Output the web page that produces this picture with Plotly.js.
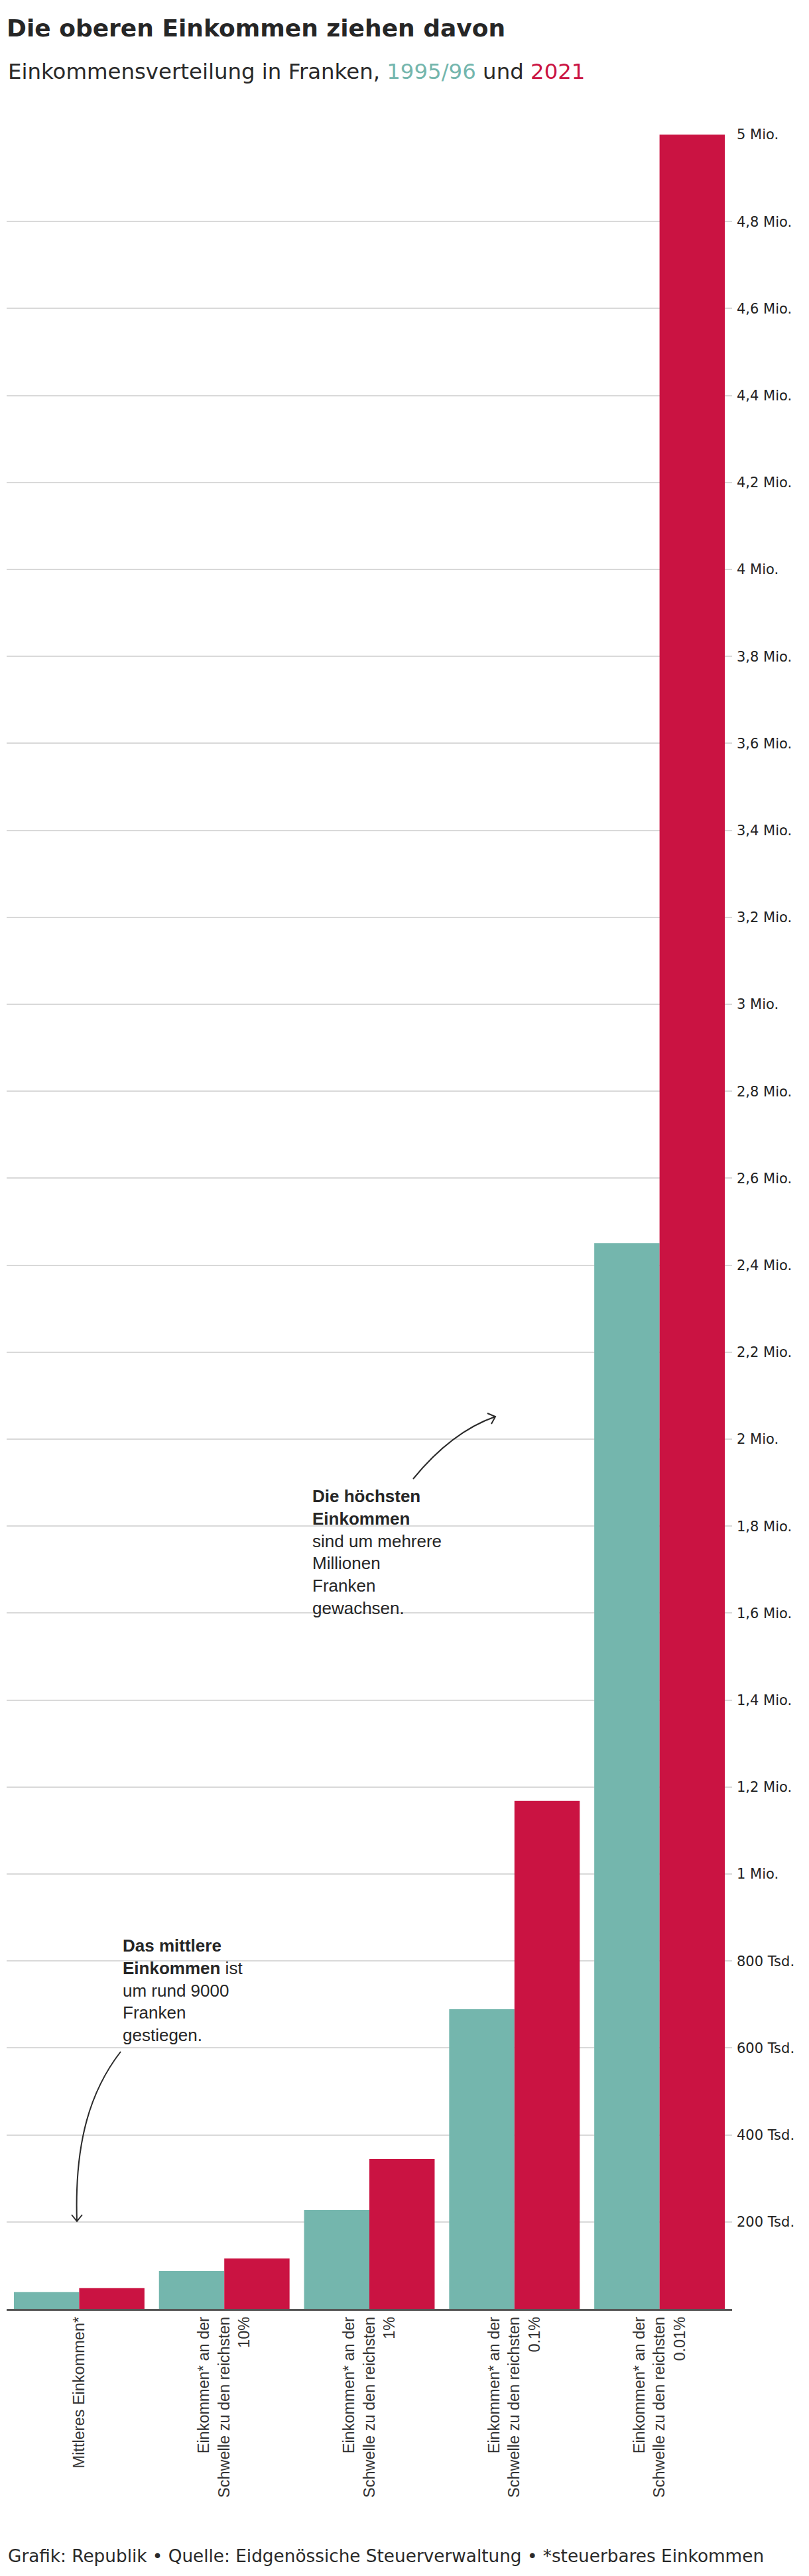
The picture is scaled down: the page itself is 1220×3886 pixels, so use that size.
<!DOCTYPE html>
<html>
<head>
<meta charset="utf-8">
<script src="https://cdn.plot.ly/plotly-3.0.1.min.js"></script>
<style>
  html, body { margin: 0; padding: 0; background: #fff; }
  #chart { width: 1220px; height: 3886px; }
</style>
</head>
<body>
<div id="chart"></div>
<script>
// ---- data ----
const categories = [
  "Mittleres Einkommen*",
  "Einkommen* an der<br>Schwelle zu den reichsten<br>10%",
  "Einkommen* an der<br>Schwelle zu den reichsten<br>1%",
  "Einkommen* an der<br>Schwelle zu den reichsten<br>0.1%",
  "Einkommen* an der<br>Schwelle zu den reichsten<br>0.01%"
];
const values1995 = [38500, 87000, 227000, 689000, 2451000];
const values2021 = [47500, 116000, 344500, 1168000, 5000000];
const tickValues = [200000, 400000, 600000, 800000, 1000000, 1200000, 1400000, 1600000, 1800000, 2000000,
  2200000, 2400000, 2600000, 2800000, 3000000, 3200000, 3400000, 3600000, 3800000, 4000000,
  4200000, 4400000, 4600000, 4800000, 5000000];
const tickLabels = ["200 Tsd.", "400 Tsd.", "600 Tsd.", "800 Tsd.", "1 Mio.", "1,2 Mio.", "1,4 Mio.", "1,6 Mio.",
  "1,8 Mio.", "2 Mio.", "2,2 Mio.", "2,4 Mio.", "2,6 Mio.", "2,8 Mio.", "3 Mio.", "3,2 Mio.", "3,4 Mio.",
  "3,6 Mio.", "3,8 Mio.", "4 Mio.", "4,2 Mio.", "4,4 Mio.", "4,6 Mio.", "4,8 Mio.", "5 Mio."];

// ---- styles ----
const TEAL = "#74b6ad";
const RED = "#ca1342";
const W = 1220, H = 3886;
const M = { l: 10, r: 116, t: 203, b: 403 };
const PW = W - M.l - M.r, PH = H - M.t - M.b;
const px = v => (v - M.l) / PW;          // pixel x -> paper
const py = v => (H - M.b - v) / PH;      // pixel y -> paper

const traces = [
  { type: "bar", name: "1995/96", x: categories, y: values1995, marker: { color: TEAL, line: { width: 0 } }, hoverinfo: "skip" },
  { type: "bar", name: "2021", x: categories, y: values2021, marker: { color: RED, line: { width: 0 } }, hoverinfo: "skip" }
];

const annFont = "Liberation Sans, Arial, sans-serif";
const headFont = "DejaVu Sans, sans-serif";

const layout = {
  width: W, height: H,
  margin: M,
  paper_bgcolor: "#fff", plot_bgcolor: "#fff",
  showlegend: false,
  barmode: "group", bargap: 0.1, bargroupgap: 0,
  title: {
    text: "<b>Die oberen Einkommen ziehen davon</b>",
    xref: "container", yref: "container",
    x: 10 / W, xanchor: "left",
    y: 1 - 42.5 / H, yanchor: "middle",
    font: { family: headFont, size: 36, color: "#262626" }
  },
  xaxis: {
    type: "category",
    showline: true, linecolor: "#555", linewidth: 2.5,
    showgrid: false, zeroline: false, ticks: "",
    tickangle: -90,
    tickfont: { family: annFont, size: 23.5, color: "#333" },
    fixedrange: true
  },
  yaxis: {
    side: "right",
    range: [0, 5000000],
    showline: false, zeroline: false,
    showgrid: true, gridcolor: "#d9d9d9", gridwidth: 2,
    tickmode: "array", tickvals: tickValues, ticktext: tickLabels,
    ticks: "", ticklabelstandoff: 6,
    tickfont: { family: headFont, size: 21, color: "#222" },
    fixedrange: true
  },
  annotations: [
    {
      xref: "paper", yref: "paper", x: px(10), y: py(107.5), xanchor: "left", yanchor: "middle",
      showarrow: false, align: "left",
      text: "Einkommensverteilung in Franken, <span style=\"color:" + TEAL + "\">1995/96</span> und <span style=\"color:" + RED + "\">2021</span>",
      font: { family: headFont, size: 32.4, color: "#2a2a2a" }
    },
    {
      xref: "paper", yref: "paper", x: px(10), y: py(3856), xanchor: "left", yanchor: "middle",
      showarrow: false, align: "left",
      text: "Grafik: Republik • Quelle: Eidgenössiche Steuerverwaltung • *steuerbares Einkommen",
      font: { family: headFont, size: 26.3, color: "#2a2a2a" }
    },
    {
      xref: "paper", yref: "paper", x: px(469), y: py(2341), xanchor: "left", yanchor: "middle",
      showarrow: false, align: "left",
      text: "<b>Die höchsten</b><br><b>Einkommen</b><br>sind um mehrere<br>Millionen<br>Franken<br>gewachsen.",
      font: { family: annFont, size: 26, color: "#262626" }
    },
    {
      xref: "paper", yref: "paper", x: px(183), y: py(3002), xanchor: "left", yanchor: "middle",
      showarrow: false, align: "left",
      text: "<b>Das mittlere</b><br><b>Einkommen</b> ist<br>um rund 9000<br>Franken<br>gestiegen.",
      font: { family: annFont, size: 26, color: "#262626" }
    }
  ],
  shapes: [
    // arrow to the top incomes
    { type: "path", xref: "paper", yref: "paper",
      path: `M ${px(623)},${py(2231)} Q ${px(681)},${py(2160)} ${px(747)},${py(2137)}`,
      line: { color: "#2a2a2a", width: 2 } },
    { type: "path", xref: "paper", yref: "paper",
      path: `M ${px(735)},${py(2132)} L ${px(747)},${py(2137)} L ${px(741)},${py(2148)}`,
      line: { color: "#2a2a2a", width: 2 } },
    // arrow to the median income
    { type: "path", xref: "paper", yref: "paper",
      path: `M ${px(182)},${py(3095)} C ${px(137)},${py(3153)} ${px(112)},${py(3230)} ${px(116)},${py(3351)}`,
      line: { color: "#2a2a2a", width: 2 } },
    { type: "path", xref: "paper", yref: "paper",
      path: `M ${px(108)},${py(3341)} L ${px(116)},${py(3351)} L ${px(124)},${py(3341)}`,
      line: { color: "#2a2a2a", width: 2 } }
  ]
};

Plotly.newPlot("chart", traces, layout, { displayModeBar: false, staticPlot: true });
</script>
</body>
</html>
